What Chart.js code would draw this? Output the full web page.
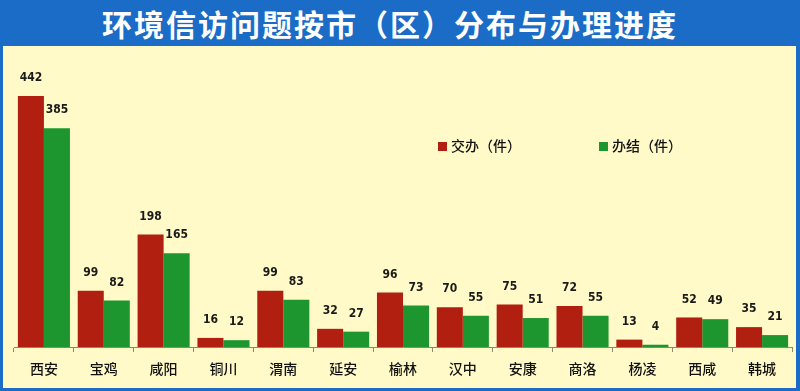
<!DOCTYPE html>
<html>
<head>
<meta charset="utf-8">
<script src="https://cdn.jsdelivr.net/npm/chart.js@4.4.1/dist/chart.umd.min.js"></script>
<style>
  html, body { margin:0; padding:0; }
  body { width:800px; height:391px; background:#1a6cc6; position:relative; overflow:hidden; font-family:"Noto Sans CJK SC", sans-serif; }
  #title { position:absolute; left:0; top:0; width:780px; height:46px; line-height:46px; text-align:center; color:#fff; font-weight:bold; font-size:30px; letter-spacing:2px; }
  #panel { position:absolute; left:3px; top:46px; width:793px; height:342px; background:#fffac8; }
  #legend { position:absolute; left:438px; top:136px; font-size:14px; font-weight:500; color:#111; }
  .li { position:absolute; white-space:nowrap; top:0; line-height:18px; }
  .sw { display:inline-block; width:9px; height:9px; margin-right:4px; vertical-align:0px; }
</style>
</head>
<body>
<div id="title">环境信访问题按市（区）分布与办理进度</div>
<div id="panel"><canvas id="c" width="793" height="342"></canvas></div>
<div id="legend"></div>
<script>
const categories = ["西安","宝鸡","咸阳","铜川","渭南","延安","榆林","汉中","安康","商洛","杨凌","西咸","韩城"];
const assigned = [442,99,198,16,99,32,96,70,75,72,13,52,35];
const completed = [385,82,165,12,83,27,73,55,51,55,4,49,21];
const seriesNames = ["交办（件）","办结（件）"];
const seriesColors = ["#b01f10","#1e9630"];

const leg = document.getElementById('legend');
const legX = [0, 161];
seriesNames.forEach((n,i)=>{
  const d = document.createElement('div');
  d.className='li'; d.style.left=legX[i]+'px';
  d.innerHTML = '<span class="sw" style="background:'+seriesColors[i]+'"></span>'+n;
  leg.appendChild(d);
});

const labelPlugin = {
  id:'vals',
  afterDatasetsDraw(chart){
    const ctx = chart.ctx;
    ctx.save();
    ctx.font = 'bold 12px "DejaVu Sans Condensed", sans-serif';
    ctx.fillStyle = '#1a1a1a';
    ctx.textAlign = 'center';
    ctx.textBaseline = 'middle';
    chart.data.datasets.forEach((ds,di)=>{
      chart.getDatasetMeta(di).data.forEach((bar,i)=>{
        ctx.fillText(String(ds.data[i]), bar.x, bar.y - 18);
      });
    });
    ctx.restore();
  }
};

new Chart(document.getElementById('c'), {
  type:'bar',
  data:{
    labels:categories,
    datasets:[
      {label:seriesNames[0], data:assigned, backgroundColor:seriesColors[0]},
      {label:seriesNames[1], data:completed, backgroundColor:seriesColors[1]}
    ]
  },
  options:{
    responsive:false,
    animation:false,
    layout:{padding:{left:11, right:4, top:17, bottom:0}},
    plugins:{legend:{display:false}, tooltip:{enabled:false}, title:{display:false}},
    datasets:{bar:{categoryPercentage:0.87, barPercentage:1.0}},
    scales:{
      x:{
        grid:{display:true, drawOnChartArea:false, drawTicks:true, tickLength:5, color:'#8a8a70'},
        border:{display:true, color:'#8a8a70', width:1},
        ticks:{color:'#111', padding:8, font:{family:'"Noto Sans CJK SC", sans-serif', size:14, weight:'500'}},
        afterFit(scale){ scale.height = 41; }
      },
      y:{ display:false, min:0, max:500 }
    }
  },
  plugins:[labelPlugin]
});
</script>
</body>
</html>
